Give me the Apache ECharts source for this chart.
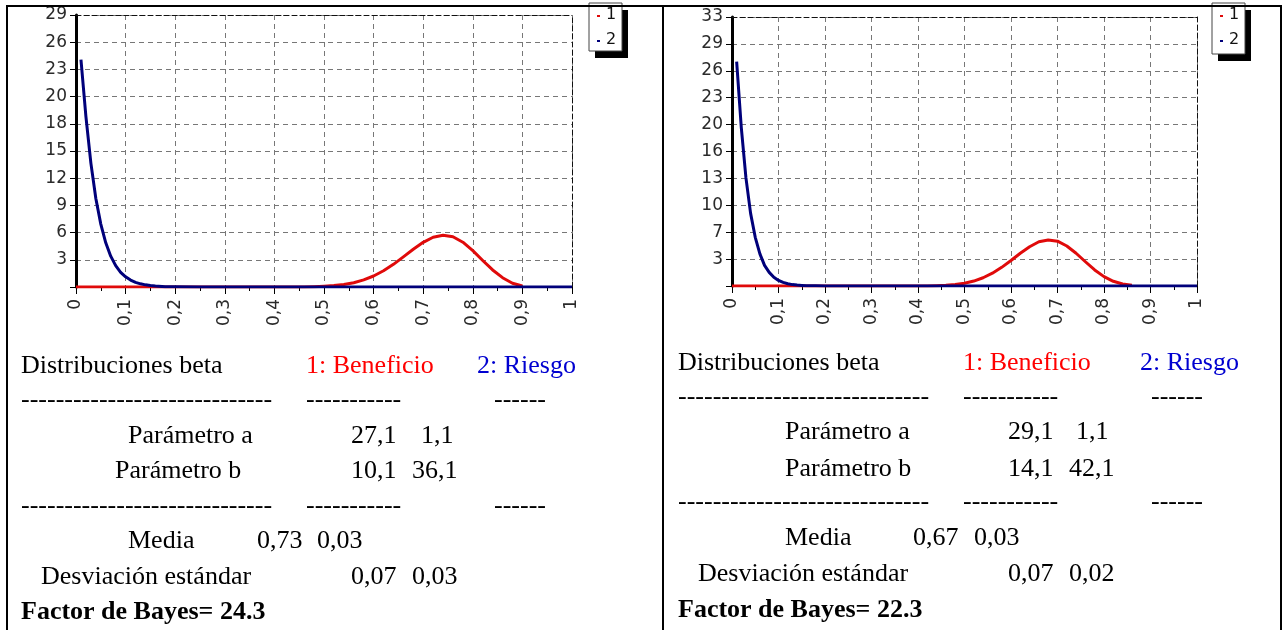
<!DOCTYPE html>
<html><head><meta charset="utf-8">
<script src="https://cdn.jsdelivr.net/npm/echarts@6/dist/echarts.min.js"></script>
<style>html,body{margin:0;padding:0;background:#fff}#c{width:1284px;height:630px}</style>
</head><body><div id="c"></div>
<script>
// ---------- Panel A (left) ----------
const benefitAX = [0, 0.46, 0.48, 0.50, 0.52, 0.54, 0.56, 0.58, 0.60, 0.62, 0.64, 0.66, 0.68, 0.70, 0.72, 0.74, 0.76, 0.78, 0.80, 0.82, 0.84, 0.86, 0.88, 0.90];
const benefitAY = [0, 0, 0.03, 0.08, 0.15, 0.27, 0.46, 0.76, 1.18, 1.74, 2.43, 3.23, 4.05, 4.80, 5.34, 5.56, 5.39, 4.81, 3.91, 2.85, 1.83, 1.00, 0.40, 0.10];
const riskAX = [0.01, 0.02, 0.03, 0.04, 0.05, 0.06, 0.07, 0.08, 0.09, 0.10, 0.11, 0.12, 0.13, 0.14, 0.15, 0.16, 0.18, 0.20, 0.25, 1.00];
const riskAY = [24.4, 18.3, 13.3, 9.5, 6.75, 4.74, 3.31, 2.29, 1.58, 1.09, 0.74, 0.50, 0.34, 0.23, 0.15, 0.10, 0.04, 0.02, 0, 0];
// ---------- Panel B (right) ----------
const benefitBX = [0, 0.42, 0.44, 0.46, 0.48, 0.50, 0.52, 0.54, 0.56, 0.58, 0.60, 0.62, 0.64, 0.66, 0.68, 0.70, 0.72, 0.74, 0.76, 0.78, 0.80, 0.82, 0.84, 0.86];
const benefitBY = [0, 0, 0.04, 0.09, 0.18, 0.34, 0.60, 1.00, 1.55, 2.26, 3.09, 3.97, 4.76, 5.36, 5.58, 5.43, 4.85, 3.97, 2.94, 1.95, 1.14, 0.57, 0.24, 0.08];
const riskBX = [0.01, 0.02, 0.03, 0.04, 0.05, 0.06, 0.07, 0.08, 0.09, 0.10, 0.11, 0.12, 0.13, 0.14, 0.15, 0.16, 0.18, 0.20, 1.00];
const riskBY = [27.2, 19.2, 13.1, 8.8, 5.9, 3.9, 2.5, 1.65, 1.06, 0.68, 0.44, 0.28, 0.17, 0.11, 0.07, 0.04, 0.02, 0, 0];
// axis ranges (10 equal divisions, labels rounded)
const yMaxA = 29.2, yStepA = 2.92;
const yMaxB = 32.6, yStepB = 3.26;
const legendLabels = ['1', '2'];
// text tables
const textA = {title: 'Distribuciones beta', s1: '1: Beneficio', s2: '2: Riesgo',
  pa: ['Parámetro a', '27,1', '1,1'], pb: ['Parámetro b', '10,1', '36,1'],
  media: ['Media', '0,73', '0,03'], sd: ['Desviación estándar', '0,07', '0,03'], bayes: 'Factor de Bayes= 24.3'};
const textB = {title: 'Distribuciones beta', s1: '1: Beneficio', s2: '2: Riesgo',
  pa: ['Parámetro a', '29,1', '1,1'], pb: ['Parámetro b', '14,1', '42,1'],
  media: ['Media', '0,67', '0,03'], sd: ['Desviación estándar', '0,07', '0,02'], bayes: 'Factor de Bayes= 22.3'};

const zip = (xs, ys) => xs.map((x, i) => [x, ys[i]]);
const RED = '#e00a0a', NAVY = '#00007a';
const AX_FONT = 'DejaVu Sans';
const GRID_C = '#777';

function xFmt(v) { if (Math.abs(v) < 1e-9) return '0'; if (Math.abs(v - 1) < 1e-9) return '1'; return v.toFixed(1).replace('.', ','); }
function yFmt(v) { return v < 1e-6 ? '' : String(Math.round(v)); }

function axesFor(g, ymax, ystep) {
  const xs = [{
    gridIndex: g, type: 'value', min: 0, max: 1, interval: 0.1,
    axisLine: {show: true, onZero: false, lineStyle: {color: '#000', width: 1}},
    axisTick: {show: true, length: 7, lineStyle: {color: '#000'}},
    minorTick: {show: true, splitNumber: 2, length: 4, lineStyle: {color: '#000'}},
    axisLabel: {rotate: 90, margin: 12, fontFamily: AX_FONT, fontSize: 17, color: '#2a2a2a', formatter: xFmt},
    splitLine: {show: true, lineStyle: {color: GRID_C, type: [5, 4], width: 1}}
  }, {
    gridIndex: g, type: 'value', min: 0, max: 1, position: 'top',
    axisLine: {show: true, onZero: false, lineStyle: {color: '#111', width: 1, type: [5, 3]}},
    axisTick: {show: false}, axisLabel: {show: false}, splitLine: {show: false}
  }];
  const ys = [{
    gridIndex: g, type: 'value', min: 0, max: ymax, interval: ystep,
    axisLine: {show: true, onZero: false, lineStyle: {color: '#000', width: 3}},
    axisTick: {show: true, length: 6, lineStyle: {color: '#000'}},
    axisLabel: {margin: 9, fontFamily: AX_FONT, fontSize: 17, color: '#2a2a2a', formatter: yFmt},
    splitLine: {show: true, lineStyle: {color: GRID_C, type: [5, 4], width: 1}}
  }, {
    gridIndex: g, type: 'value', min: 0, max: ymax, position: 'right',
    axisLine: {show: true, onZero: false, lineStyle: {color: '#111', width: 1, type: [5, 3]}},
    axisTick: {show: false}, axisLabel: {show: false}, splitLine: {show: false}
  }];
  return {xs, ys};
}
const a = axesFor(0, yMaxA, yStepA), b = axesFor(1, yMaxB, yStepB);

function line(name, data, color, xi, yi) {
  return {name, type: 'line', xAxisIndex: xi, yAxisIndex: yi, data, showSymbol: false, symbol: 'none',
    lineStyle: {color, width: 3, join: 'round'}, itemStyle: {color}, animation: false, silent: true};
}

const SERIF = 'Liberation Serif';
function txt(x, baseline, text, color, size, bold) {
  size = size || 26;
  return {type: 'text', x: x, y: baseline - size * 0.27, silent: true, style: {
    text, fill: color || '#000', font: (bold ? 'bold ' : '') + size + 'px "' + SERIF + '"',
    textAlign: 'left', textVerticalAlign: 'middle'}};
}
function dashes(x, baseline, n) { return txt(x, baseline, '-'.repeat(n)); }

function textBlock(t, L) {
  return [
    txt(L.x0, L.r1, t.title), txt(L.xs1, L.r1, t.s1, '#ff0000'), txt(L.xs2, L.r1, t.s2, '#0000d0'),
    dashes(L.x0, L.d1, 29), dashes(L.xs1, L.d1, 11), dashes(L.xd3, L.d1, 6),
    txt(L.xpa, L.r3, t.pa[0]), txt(L.xv1, L.r3, t.pa[1]), txt(L.xpa2, L.r3, t.pa[2]),
    txt(L.xpb, L.r4, t.pb[0]), txt(L.xv1, L.r4, t.pb[1]), txt(L.xpb2, L.r4, t.pb[2]),
    dashes(L.x0, L.d2, 29), dashes(L.xs1, L.d2, 11), dashes(L.xd3, L.d2, 6),
    txt(L.xpa, L.r6, t.media[0]), txt(L.xm1, L.r6, t.media[1]), txt(L.xm2, L.r6, t.media[2]),
    txt(L.xsd, L.r7, t.sd[0]), txt(L.xv1, L.r7, t.sd[1]), txt(L.xpb2, L.r7, t.sd[2]),
    txt(L.x0, L.r8, t.bayes, '#000', 26, true)
  ];
}
const layoutA = {x0: 21, xs1: 306, xs2: 477, xd3: 494, r1: 373, d1: 407, xpa: 128, xpb: 115, xv1: 351, xpa2: 421, xpb2: 412,
  r3: 443, r4: 478, d2: 513, r6: 548, xm1: 257, xm2: 317, xsd: 41, r7: 584, r8: 619};
const layoutB = {x0: 678, xs1: 963, xs2: 1140, xd3: 1151, r1: 370, d1: 404, xpa: 785, xpb: 785, xv1: 1008, xpa2: 1076, xpb2: 1069,
  r3: 439, r4: 476, d2: 509, r6: 545, xm1: 913, xm2: 974, xsd: 698, r7: 581, r8: 617};

function legendBox(x, y, w, h) {
  return [
    {type: 'rect', shape: {x: x + 6, y: y + 7, width: w, height: h}, style: {fill: '#000'}, silent: true},
    {type: 'rect', shape: {x: x, y: y, width: w, height: h}, style: {fill: '#fff', stroke: '#444', lineWidth: 1}, silent: true},
    {type: 'rect', shape: {x: x + 8, y: y + 12, width: 3, height: 2}, style: {fill: RED}, silent: true},
    {type: 'text', x: x + 17, y: y + 12, style: {text: legendLabels[0], fill: '#111', font: '16px "DejaVu Sans"', textVerticalAlign: 'middle'}, silent: true},
    {type: 'rect', shape: {x: x + 8, y: y + 37, width: 3, height: 2}, style: {fill: NAVY}, silent: true},
    {type: 'text', x: x + 17, y: y + 37, style: {text: legendLabels[1], fill: '#111', font: '16px "DejaVu Sans"', textVerticalAlign: 'middle'}, silent: true}
  ];
}

const borders = [
  {type: 'line', shape: {x1: 6, y1: 6, x2: 1282, y2: 6}, style: {stroke: '#000', lineWidth: 2}, silent: true, z: 100},
  {type: 'line', shape: {x1: 7, y1: 5, x2: 7, y2: 630}, style: {stroke: '#000', lineWidth: 2}, silent: true, z: 100},
  {type: 'line', shape: {x1: 663, y1: 5, x2: 663, y2: 630}, style: {stroke: '#000', lineWidth: 2}, silent: true, z: 100},
  {type: 'line', shape: {x1: 1281, y1: 5, x2: 1281, y2: 630}, style: {stroke: '#000', lineWidth: 2}, silent: true, z: 100}
];

const chart = echarts.init(document.getElementById('c'), null, {renderer: 'canvas'});
chart.setOption({
  animation: false,
  backgroundColor: '#fff',
  grid: [
    {left: 76, top: 15, width: 496, height: 272},
    {left: 732, top: 17, width: 465, height: 269}
  ],
  xAxis: [...a.xs, ...b.xs],
  yAxis: [...a.ys, ...b.ys],
  series: [
    line('1', zip(benefitAX, benefitAY), RED, 0, 0),
    line('2', zip(riskAX, riskAY), NAVY, 0, 0),
    line('1', zip(benefitBX, benefitBY), RED, 2, 2),
    line('2', zip(riskBX, riskBY), NAVY, 2, 2)
  ],
  graphic: [
    ...legendBox(589, 3, 33, 48),
    ...legendBox(1212, 3, 33, 51),
    ...textBlock(textA, layoutA),
    ...textBlock(textB, layoutB),
    ...borders
  ]
});
</script>
</body></html>
